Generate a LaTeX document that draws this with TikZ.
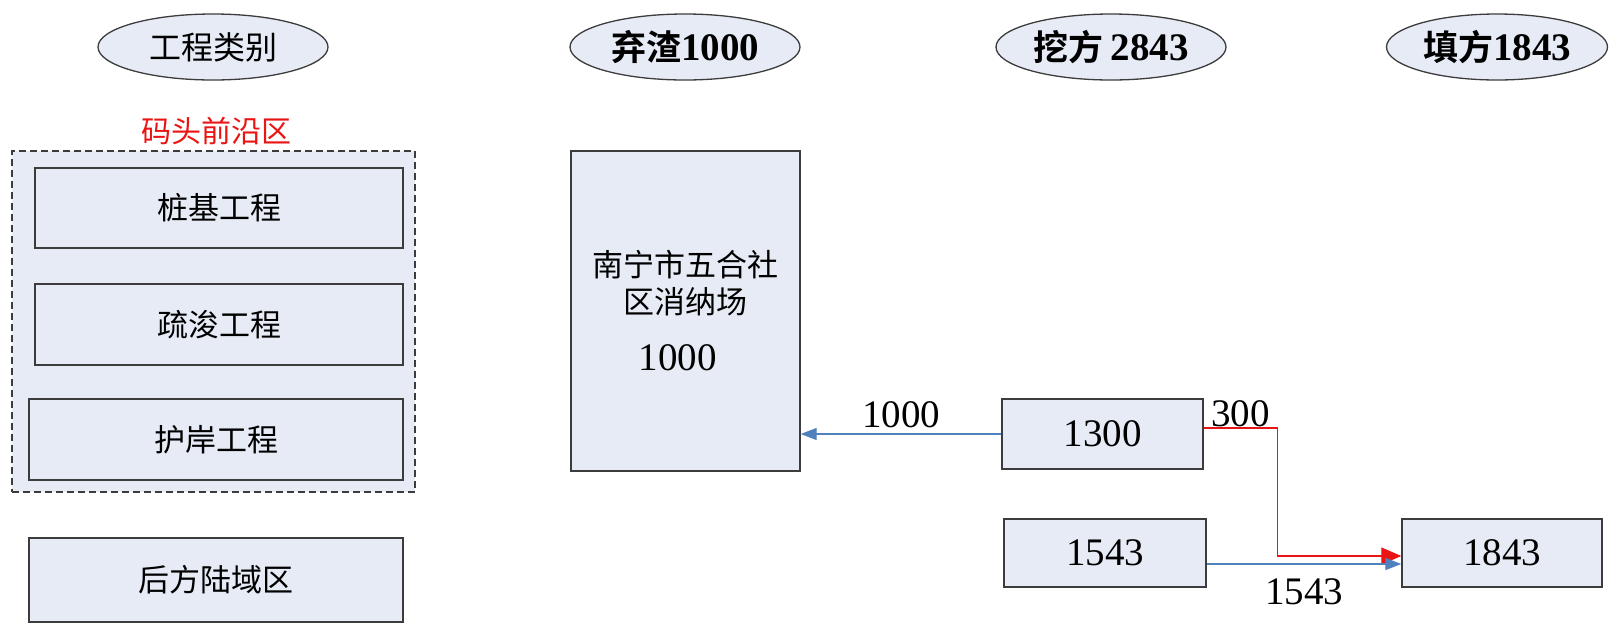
\documentclass[tikz,border=0pt]{standalone}
\usepackage{fontspec}
\setmainfont{Liberation Serif}
\newfontfamily\cjk{Noto Sans CJK SC}[BoldFont={Noto Sans CJK SC Bold}]
\usetikzlibrary{shapes.geometric,arrows.meta}

\definecolor{boxfill}{RGB}{230,235,245}
\definecolor{boxline}{RGB}{60,60,60}
\definecolor{flowblue}{RGB}{79,129,189}
\definecolor{flowred}{RGB}{235,20,20}

\tikzset{
  head/.style={ellipse, draw=boxline, fill=boxfill, line width=1.3pt,
    minimum width=230pt, minimum height=66pt, inner sep=0pt},
  headtxt/.style={font=\cjk\bfseries\fontsize{35}{40}\selectfont},
  part/.style={rectangle, draw=boxline, fill=boxfill, line width=1.4pt,
    inner sep=0pt, font=\cjk\fontsize{31}{37}\selectfont},
  qty/.style={rectangle, draw=boxline, fill=boxfill, line width=1.4pt,
    inner sep=0pt, font=\fontsize{39}{44}\selectfont},
  num/.style={font=\fontsize{39}{44}\selectfont},
  blueflow/.style={draw=flowblue, line width=1.3pt,
    -{Triangle[length=16pt,width=12pt]}},
  redflow/.style={draw=flowred, line width=1.3pt,
    -{Triangle[length=20pt,width=17pt]}}
}

\begin{document}
\begin{tikzpicture}[x=1pt,y=-1pt]
  \useasboundingbox (0,0) rectangle (1615,625);

  \node[head, font=\cjk\fontsize{32}{38}\selectfont] (kind) at (213,47) {工程类别};
  \node[head, headtxt] (spoil) at (685,47) {弃渣\textbf{\rmfamily\fontsize{39}{44}\selectfont 1000}};
  \node[head, headtxt] (dig) at (1111,47) {挖方 \textbf{\rmfamily\fontsize{39}{44}\selectfont 2843}};
  \node[head, headtxt, minimum width=221pt] (fill) at (1497,47) {填方\textbf{\rmfamily\fontsize{39}{44}\selectfont 1843}};

  \node[draw=boxline, fill=boxfill, line width=1.2pt, dash pattern=on 7pt off 4pt,
    minimum width=403pt, minimum height=341pt] (front) at (213.5,321.5) {};
  \node[text=flowred, font=\cjk\fontsize{30}{36}\selectfont] (frontlbl) at (216,131) {码头前沿区};
  \node[part, minimum width=368pt, minimum height=80pt] (pile) at (219,208) {桩基工程};
  \node[part, minimum width=368pt, minimum height=81pt] (dredge) at (219,324.5) {疏浚工程};
  \node[part, minimum width=374pt, minimum height=81pt] (bank) at (216,439.5) {护岸工程};
  \node[part, minimum width=374pt, minimum height=84pt] (land) at (216,580) {后方陆域区};

  \node[part, align=center, minimum width=229pt, minimum height=320pt] (site) at (685.5,311)
    {南宁市五合社\\区消纳场\\[20pt]{\rmfamily\fontsize{39}{44}\selectfont 1000}\hspace*{16pt}};

  \node[qty, minimum width=201pt, minimum height=70pt] (b1300) at (1102.5,434) {1300};
  \node[qty, minimum width=202pt, minimum height=68pt] (b1543) at (1105,553) {1543};
  \node[qty, minimum width=200pt, minimum height=68pt] (b1843) at (1502,553) {1843};

  \draw[blueflow] (b1300.west) -- (b1300.west -| site.east)
    node[num, midway, above=2pt] {1000};
  \draw[redflow] ([yshift=6pt]b1300.east) -- ++(74,0) node[num, midway, above=-3pt] {300}
    |- ([yshift=-3pt]b1843.west);
  \draw[blueflow] ([yshift=-11pt]b1543.east) -- ([yshift=-11pt]b1843.west)
    node[num, midway, below=11pt] {1543};
\end{tikzpicture}
\end{document}
